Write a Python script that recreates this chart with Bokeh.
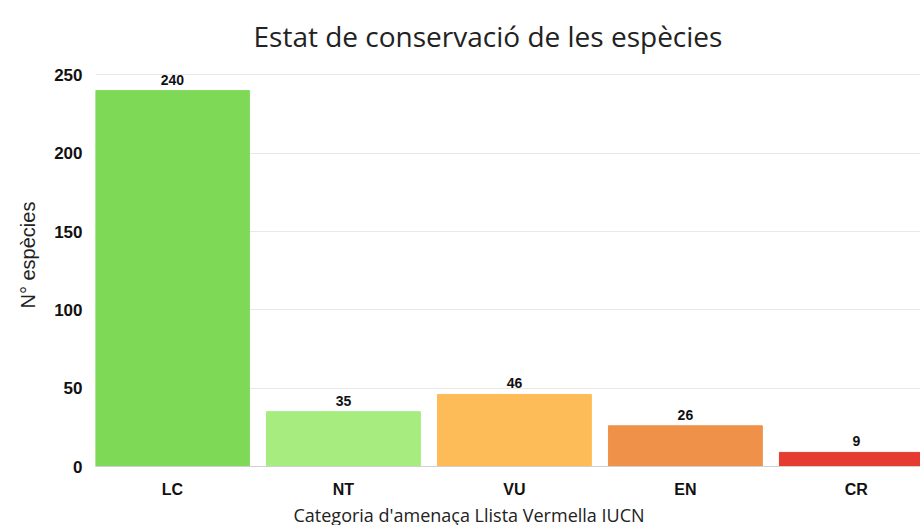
from bokeh.plotting import figure
from bokeh.models import Range1d, FixedTicker, ColumnDataSource, Title
from bokeh.core.properties import value
from bokeh.embed import file_html
from bokeh.resources import INLINE

categories = ["LC", "NT", "VU", "EN", "CR"]
counts = [240, 35, 46, 26, 9]
colors = ["#7ED957", "#A6EC7E", "#FDBC57", "#F0914A", "#E53B30"]
y_ticks = [0, 50, 100, 150, 200, 250]

xs = list(range(len(categories)))
src = ColumnDataSource(dict(x=xs, top=counts, color=colors,
                            label=[str(c) for c in counts]))

p = figure(frame_width=825, frame_height=400, output_backend="svg",
           toolbar_location=None,
           x_range=Range1d(-0.45, 4.375), y_range=Range1d(0, 255.4),
           min_border_left=95, min_border_right=0, min_border_top=66,
           min_border_bottom=58, outline_line_color=None)

p.vbar(x="x", top="top", width=0.9, color="color", source=src)
p.text(x="x", y="top", text="label", source=src, text_align="center",
       text_baseline="bottom", y_offset=-6, text_font=value("Liberation Sans"),
       text_font_style="bold", text_font_size="14px", text_color="#111111")

p.title.text = "Estat de conservació de les espècies"
p.title.align = "left"
p.title.offset = 158
p.title.text_font = "Open Sans"
p.title.text_font_style = "normal"
p.title.text_font_size = "28px"
p.title.text_color = "#222222"
p.title.standoff = 24

xlab = Title(text="Categoria d'amenaça Llista Vermella IUCN", align="left",
             offset=198, text_font="Open Sans", text_font_style="normal",
             text_font_size="18px", text_color="#222222", standoff=0)
p.add_layout(xlab, "below")

ylab = Title(text="N° espècies", align="left", offset=158,
             text_font="Liberation Sans", text_font_style="normal",
             text_font_size="20px", text_color="#222222", standoff=26)
p.add_layout(ylab, "left")

p.xaxis.ticker = FixedTicker(ticks=xs)
p.xaxis.major_label_overrides = {i: c for i, c in enumerate(categories)}
p.xaxis.major_label_text_font = "Liberation Sans"
p.xaxis.major_label_text_font_style = "bold"
p.xaxis.major_label_text_font_size = "16px"
p.xaxis.major_label_text_color = "#111111"
p.xaxis.major_tick_out = 0
p.xaxis.major_tick_in = 0
p.xaxis.major_label_standoff = 14
p.xaxis.major_tick_line_color = None
p.xaxis.minor_tick_line_color = None
p.xaxis.axis_line_color = "#d0d0d0"

p.yaxis.ticker = FixedTicker(ticks=y_ticks)
p.yaxis.major_label_text_font = "Liberation Sans"
p.yaxis.major_label_text_font_style = "bold"
p.yaxis.major_label_text_font_size = "17px"
p.yaxis.major_label_text_color = "#111111"
p.yaxis.major_tick_out = 0
p.yaxis.major_tick_in = 0
p.yaxis.major_label_standoff = 13
p.yaxis.major_tick_line_color = None
p.yaxis.minor_tick_line_color = None
p.yaxis.axis_line_color = None

p.xgrid.grid_line_color = None
p.ygrid.grid_line_color = "#e8e8e8"
p.ygrid.ticker = FixedTicker(ticks=y_ticks)

open("out.html", "w").write(file_html(p, INLINE))
